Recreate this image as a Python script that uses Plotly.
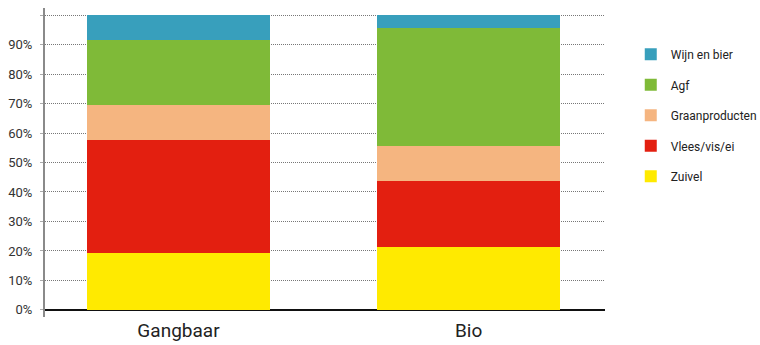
import plotly.graph_objects as go

categories = ["Gangbaar", "Bio"]
series_names = ["Zuivel", "Vlees/vis/ei", "Graanproducten", "Agf", "Wijn en bier"]
zuivel = [19.3, 21.5]
vlees = [38.3, 22.2]
graan = [11.9, 11.9]
agf = [22.0, 40.1]
wijn = [8.5, 4.3]
colors = ["#ffea00", "#e31f10", "#f5b580", "#7fba38", "#389fbc"]

tick_vals = [0, 10, 20, 30, 40, 50, 60, 70, 80, 90, 100]
tick_text = ["0%", "10%", "20%", "30%", "40%", "50%", "60%", "70%", "80%", "90%", ""]

FONT = "Liberation Sans Narrow, Roboto, sans-serif"

fig = go.Figure()
n = len(series_names)
for i, (name, vals) in enumerate(zip(series_names, [zuivel, vlees, graan, agf, wijn])):
    fig.add_trace(go.Bar(
        x=categories, y=vals, name=name, legendgroup=name,
        legendrank=n - i,
        marker=dict(color=colors[i], line=dict(width=0)),
        width=0.63,
    ))

fig.update_layout(
    barmode="stack",
    width=760, height=345,
    margin=dict(l=45, r=155, t=8, b=28, autoexpand=False),
    paper_bgcolor="white", plot_bgcolor="white",
    font=dict(family=FONT, color="#333333", size=13),
    showlegend=True,
    legend=dict(
        x=1.046, xanchor="left", y=0.897, yanchor="top",
        traceorder="grouped", tracegroupgap=11.5,
        font=dict(family=FONT, size=12, color="#222222"),
        bgcolor="rgba(0,0,0,0)",
    ),
    xaxis=dict(
        range=[-0.46, 1.47], showgrid=False, showline=False, ticks="",
        tickfont=dict(family=FONT, size=19, color="#222222"),
        fixedrange=True,
    ),
    yaxis=dict(
        range=[-2.4, 102.4], tickvals=tick_vals, ticktext=tick_text,
        showgrid=True, gridcolor="#777777", griddash="1px,1px", gridwidth=1,
        zeroline=True, zerolinecolor="#111111", zerolinewidth=1.5,
        showline=True, linecolor="#8a8a8a", linewidth=2,
        ticks="outside", ticklen=3, tickcolor="#aaaaaa",
        ticklabelstandoff=5,
        tickfont=dict(family=FONT, size=13, color="#333333"),
    ),
)

fig.write_html("out.html")
